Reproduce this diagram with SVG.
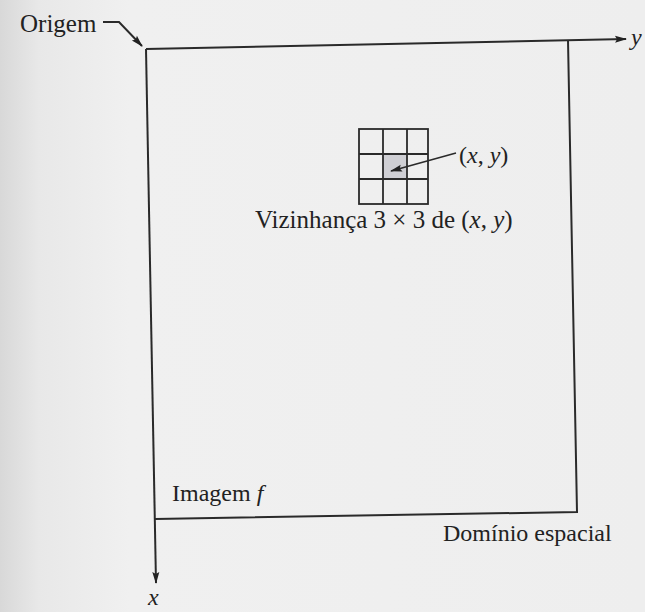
<svg xmlns="http://www.w3.org/2000/svg" width="645" height="612" viewBox="0 0 645 612">
<defs>
<linearGradient id="bg" x1="0" y1="0" x2="1" y2="0">
<stop offset="0" stop-color="#d8d8d8"/>
<stop offset="0.06" stop-color="#e8e8e8"/>
<stop offset="0.2" stop-color="#f0f0f0"/>
<stop offset="1" stop-color="#eeeeee"/>
</linearGradient>
<marker id="ahs" viewBox="0 0 12 10" refX="11" refY="5" markerWidth="13" markerHeight="10" orient="auto" markerUnits="userSpaceOnUse">
<path d="M0,1.5 L12,5 L0,8.5 L2,5 Z" fill="#222"/>
</marker>
</defs>
<style>
.ln{stroke:#2a2a2a;stroke-width:2;fill:none}
.t{font-family:"Liberation Serif","Times New Roman",serif;fill:#222;font-size:24px}
.i{font-style:italic}
.g{stroke:#2a2a2a;stroke-width:1.8;fill:none}
</style>
<rect width="645" height="612" fill="url(#bg)"/>
<g id="image-domain">
<polyline class="ln" points="568,40 577,512 155,519"/>
</g>
<g id="neighborhood">
<rect x="383" y="154" width="24" height="25" fill="#cfcfd4"/>
<rect class="g" x="359" y="129" width="69" height="75"/>
<line class="g" x1="383" y1="129" x2="383" y2="204"/>
<line class="g" x1="407" y1="129" x2="407" y2="204"/>
<line class="g" x1="359" y1="154" x2="428" y2="154"/>
<line class="g" x1="359" y1="179" x2="428" y2="179"/>
</g>
<g id="connectors">
<line class="ln" x1="146" y1="49" x2="626" y2="39" style="marker-end:url(#ahs)"/>
<line class="ln" x1="146" y1="49" x2="156" y2="583" style="marker-end:url(#ahs)"/>
<path class="ln" d="M103,22 L119,22 L142,46" style="marker-end:url(#ahs)"/>
<line class="ln" x1="456" y1="153" x2="391" y2="171" style="stroke-width:1.6;marker-end:url(#ahs)"/>
</g>
<g id="labels">
<text class="t" x="20" y="32" style="font-size:25px">Origem</text>
<text class="t i" x="631" y="45">y</text>
<text class="t i" x="148" y="605">x</text>
<text class="t" x="459" y="163">(<tspan class="i">x</tspan>, <tspan class="i">y</tspan>)</text>
<text class="t" x="255" y="228" style="font-size:25px">Vizinhança 3 × 3 de (<tspan class="i">x</tspan>, <tspan class="i">y</tspan>)</text>
<text class="t" x="172" y="501">Imagem <tspan class="i">f</tspan></text>
<text class="t" x="443" y="541">Domínio espacial</text>
</g>
</svg>
